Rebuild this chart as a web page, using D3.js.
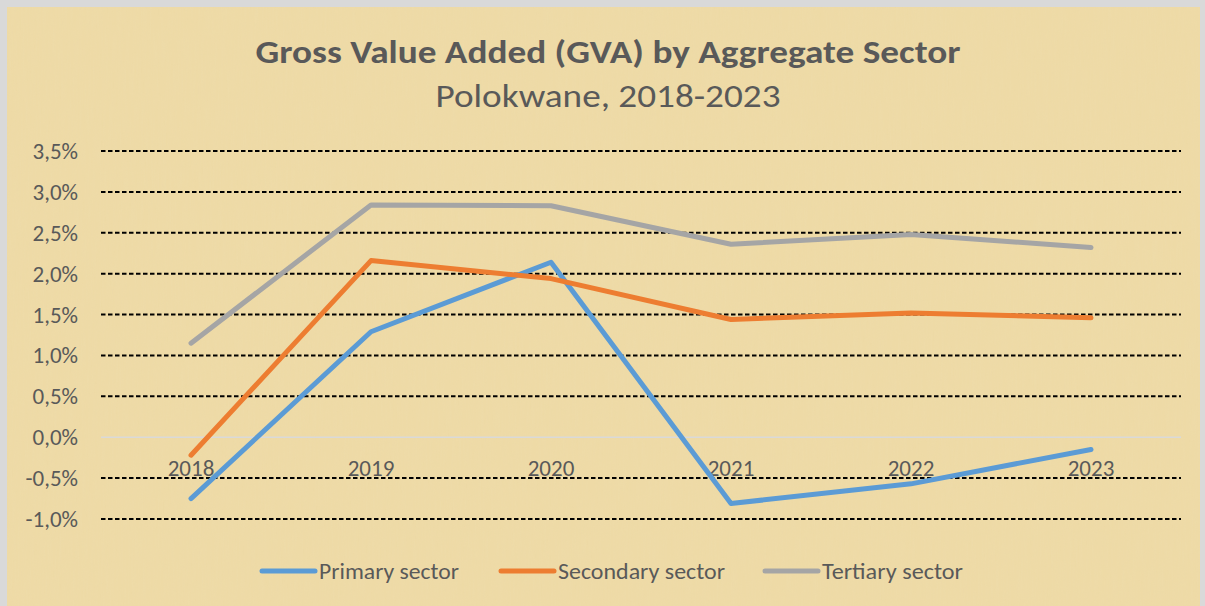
<!DOCTYPE html>
<html lang="en">
<head>
  <meta charset="UTF-8" />
  <title>Gross Value Added (GVA) by Aggregate Sector</title>
  <script src="https://d3js.org/d3.v7.min.js"></script>
  <style>
    body { margin: 0; background: #ffffff; font-family: Carlito, Lato, sans-serif; }
    svg { display: block; }
    .tick-label { fill: #595959; font-size: 23px; }
    .legend-label { fill: #595959; font-size: 22px; }
  </style>
</head>
<body>
  <div id="chart"></div>
  <script>
    // --- Data ---
    const years = ["2018", "2019", "2020", "2021", "2022", "2023"];
    const primary = [-0.75, 1.29, 2.14, -0.81, -0.57, -0.15];
    const secondary = [-0.22, 2.16, 1.94, 1.44, 1.52, 1.46];
    const tertiary = [1.15, 2.84, 2.83, 2.36, 2.48, 2.32];
    const yTicks = [-1.0, -0.5, 0.0, 0.5, 1.0, 1.5, 2.0, 2.5, 3.0, 3.5];

    const series = [
      { name: "Primary sector", values: primary, color: "#5B9BD5" },
      { name: "Secondary sector", values: secondary, color: "#ED7D31" },
      { name: "Tertiary sector", values: tertiary, color: "#A5A5A5" }
    ];

    const W = 1205, H = 606;
    const plot = { left: 101, right: 1181, top: 151, bottom: 519 };

    const svg = d3.select("#chart").append("svg")
      .attr("width", W).attr("height", H);

    // --- parchment-ish background ---
    const defs = svg.append("defs");
    const filt = defs.append("filter").attr("id", "paper")
      .attr("x", 0).attr("y", 0).attr("width", "100%").attr("height", "100%");
    filt.append("feTurbulence").attr("type", "fractalNoise")
      .attr("baseFrequency", "0.6 0.03").attr("numOctaves", 2).attr("seed", 3);
    filt.append("feColorMatrix").attr("type", "matrix")
      .attr("values", "0 0 0 0 0.85  0 0 0 0 0.72  0 0 0 0 0.42  0 0 0 0.9 -0.3");

    svg.append("rect").attr("x", 0).attr("y", 0).attr("width", W).attr("height", H)
      .attr("fill", "#d9d9d9");
    svg.append("rect").attr("x", 7).attr("y", 7).attr("width", 1193).attr("height", H - 7)
      .attr("fill", "#eedaa6");
    svg.append("rect").attr("x", 7).attr("y", 7).attr("width", 1193).attr("height", H - 7)
      .attr("filter", "url(#paper)").attr("opacity", 0.6);

    // --- scales ---
    const x = d3.scaleBand().domain(years).range([plot.left, plot.right]);
    const y = d3.scaleLinear().domain([-1.0, 3.5]).range([plot.bottom, plot.top]);
    const cx = d => x(d) + x.bandwidth() / 2;
    const fmt = v => d3.format(".1f")(v).replace(".", ",").replace("−", "-") + "%";

    // --- gridlines ---
    svg.append("g").selectAll("line")
      .data(yTicks)
      .join("line")
      .attr("x1", plot.left).attr("x2", plot.right)
      .attr("y1", d => y(d)).attr("y2", d => y(d))
      .attr("stroke", d => d === 0 ? "#d9d9d9" : "#000")
      .attr("stroke-width", d => d === 0 ? 1.5 : 2)
      .attr("stroke-dasharray", d => d === 0 ? null : "4.5,2.5");

    // --- y axis labels ---
    svg.append("g").selectAll("text")
      .data(yTicks)
      .join("text")
      .attr("class", "tick-label")
      .attr("x", 78)
      .attr("y", d => y(d))
      .attr("dy", "0.35em")
      .attr("text-anchor", "end")
      .text(fmt);

    // --- x axis labels (sit just under the zero line) ---
    svg.append("g").selectAll("text")
      .data(years)
      .join("text")
      .attr("class", "tick-label")
      .attr("x", d => cx(d))
      .attr("y", y(0) + 39)
      .attr("text-anchor", "middle")
      .text(d => d);

    // --- lines ---
    const line = d3.line()
      .x((d, i) => cx(years[i]))
      .y(d => y(d));

    svg.append("g").selectAll("path")
      .data(series)
      .join("path")
      .attr("d", d => line(d.values))
      .attr("fill", "none")
      .attr("stroke", d => d.color)
      .attr("stroke-width", 5)
      .attr("stroke-linecap", "round")
      .attr("stroke-linejoin", "round");

    // --- titles ---
    svg.append("text")
      .attr("x", 608).attr("y", 63)
      .attr("text-anchor", "middle")
      .attr("fill", "#595959")
      .attr("font-size", 32).attr("font-weight", "bold")
      .attr("textLength", 705).attr("lengthAdjust", "spacingAndGlyphs")
      .text("Gross Value Added (GVA) by Aggregate Sector");

    svg.append("text")
      .attr("x", 608).attr("y", 107)
      .attr("text-anchor", "middle")
      .attr("fill", "#595959")
      .attr("font-size", 32)
      .attr("textLength", 345).attr("lengthAdjust", "spacingAndGlyphs")
      .text("Polokwane, 2018-2023");

    // --- legend ---
    const legendX = [260, 499, 763];
    const legendW = [140, 167, 141];
    const lg = svg.append("g").selectAll("g")
      .data(series)
      .join("g")
      .attr("transform", (d, i) => `translate(${legendX[i]},571)`);
    lg.append("line")
      .attr("x1", 2).attr("x2", 55)
      .attr("stroke", d => d.color).attr("stroke-width", 5)
      .attr("stroke-linecap", "round");
    lg.append("text")
      .attr("class", "legend-label")
      .attr("x", 59).attr("dy", "0.35em")
      .attr("textLength", (d, i) => legendW[i]).attr("lengthAdjust", "spacingAndGlyphs")
      .text(d => d.name);
  </script>
</body>
</html>
